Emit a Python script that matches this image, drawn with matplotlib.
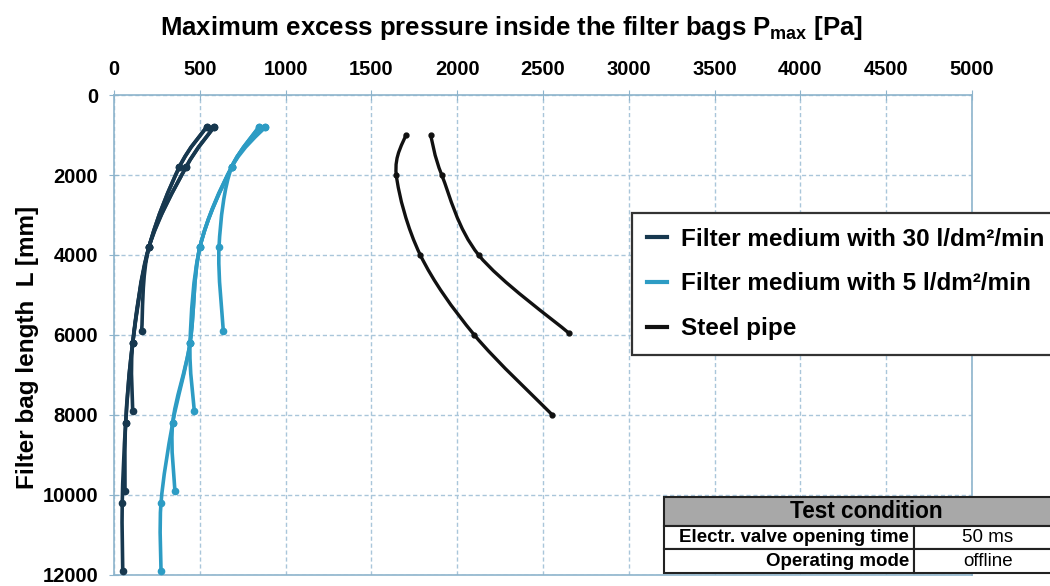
import numpy as np
import matplotlib
matplotlib.use('Agg')
import matplotlib.pyplot as plt
from matplotlib.path import Path
from matplotlib.patches import PathPatch, Rectangle
from matplotlib.lines import Line2D

plt.rcParams['font.family'] = ['Liberation Sans', 'DejaVu Sans']
plt.rcParams['mathtext.fontset'] = 'custom'
plt.rcParams['mathtext.bf'] = 'Liberation Sans:bold'
plt.rcParams['mathtext.rm'] = 'Liberation Sans'

# ---------------- data ----------------
x_ticks = [0, 500, 1000, 1500, 2000, 2500, 3000, 3500, 4000, 4500, 5000]
y_ticks = [0, 2000, 4000, 6000, 8000, 10000, 12000]

series_labels = ["Filter medium with 30 l/dm²/min",
                 "Filter medium with 5 l/dm²/min",
                 "Steel pipe"]

# Filter medium 30 l/dm2/min : (length L [mm], pressure P [Pa]) per bag length
len30_6 = [800, 1800, 3800, 5900]
p30_6 = [583, 420, 204, 161]
len30_8 = [800, 1800, 3800, 6200, 7900]
p30_8 = [540, 381, 204, 109, 109]
len30_10 = [800, 1800, 3800, 6200, 8200, 9900]
p30_10 = [583, 420, 204, 109, 68, 64]
len30_12 = [800, 1800, 3800, 6200, 8200, 10200, 11900]
p30_12 = [540, 381, 204, 109, 68, 48, 51]

# Filter medium 5 l/dm2/min
len5_6 = [800, 1800, 3800, 5900]
p5_6 = [880, 686, 612, 637]
len5_8 = [800, 1800, 3800, 6200, 7900]
p5_8 = [845, 686, 501, 443, 468]
len5_10 = [800, 1800, 3800, 6200, 8200, 9900]
p5_10 = [880, 686, 501, 443, 342, 355]
len5_12 = [800, 1800, 3800, 6200, 8200, 10200, 11900]
p5_12 = [845, 686, 501, 443, 342, 274, 274]

# Steel pipe
lenS_6 = [1000, 2000, 4000, 5950]
pS_6 = [1845, 1910, 2125, 2650]
lenS_8 = [1000, 2000, 4000, 6000, 8000]
pS_8 = [1700, 1645, 1785, 2100, 2555]

table_title = "Test condition"
table_keys = ["Electr. valve opening time", "Operating mode"]
table_vals = ["50 ms", "offline"]

# ---------------- styling ----------------
c30 = '#17384f'
c5 = '#2d9cc4'
cS = '#111111'
grid_c = '#a9c6da'
spine_c = '#8db4cc'

W, H = 1050, 586


def fx(x):
    return x / W


def fy(y):
    return 1 - y / H


def smooth_path(xs, ys):
    pts = np.column_stack([xs, ys]).astype(float)
    n = len(pts)
    verts = [pts[0]]
    codes = [Path.MOVETO]
    for i in range(n - 1):
        p0 = pts[i - 1] if i > 0 else pts[i]
        p1 = pts[i]
        p2 = pts[i + 1]
        p3 = pts[i + 2] if i + 2 < n else pts[i + 1]
        c1 = p1 + (p2 - p0) / 6.0
        c2 = p2 - (p3 - p1) / 6.0
        verts += [c1, c2, p2]
        codes += [Path.CURVE4] * 3
    return Path(verts, codes)


fig = plt.figure(figsize=(W / 100, H / 100), dpi=100)
ax = fig.add_axes([fx(114), 11 / H, 858 / W, 480 / H])
ax.set_xlim(0, 5000)
ax.set_ylim(12000, 0)
ax.xaxis.tick_top()

ax.set_xticks(x_ticks, labels=[str(v) for v in x_ticks], fontweight='bold', fontsize=14.5)
ax.set_yticks(y_ticks, labels=[str(v) for v in y_ticks], fontweight='bold', fontsize=14.5)
ax.tick_params(axis='x', direction='inout', length=7, color=spine_c, pad=8)
ax.tick_params(axis='y', direction='inout', length=7, color=spine_c, pad=8)
ax.grid(True, color=grid_c, linestyle=(0, (3, 2)), linewidth=1.0)
ax.set_axisbelow(True)
for s in ax.spines.values():
    s.set_color(spine_c)
    s.set_linewidth(1.2)

curves = [
    (p30_6, len30_6, c30, 2.6, 4.5), (p30_8, len30_8, c30, 2.6, 4.5),
    (p30_10, len30_10, c30, 2.6, 4.5), (p30_12, len30_12, c30, 2.6, 4.5),
    (p5_6, len5_6, c5, 2.6, 4.5), (p5_8, len5_8, c5, 2.6, 4.5),
    (p5_10, len5_10, c5, 2.6, 4.5), (p5_12, len5_12, c5, 2.6, 4.5),
    (pS_6, lenS_6, cS, 2.4, 3.5), (pS_8, lenS_8, cS, 2.4, 3.5),
]
for px, ly, col, lw, ms in curves:
    ax.add_patch(PathPatch(smooth_path(px, ly), facecolor='none', edgecolor=col,
                           lw=lw, capstyle='round', joinstyle='round', zorder=3))
    ax.plot(px, ly, linestyle='none', marker='o', color=col, ms=ms, zorder=4)

# axis titles
fig.text(fx(512), fy(28), 'Maximum excess pressure inside the filter bags P$_\\mathbf{max}$ [Pa]',
         ha='center', va='center', fontsize=18.5, fontweight='bold')
fig.text(fx(28), fy(347), 'Filter bag length  L [mm]', rotation=90,
         ha='center', va='center', fontsize=17.5, fontweight='bold')

# legend
handles = [Line2D([], [], color=c, lw=3) for c in (c30, c5, cS)]
leg = fig.legend(handles, series_labels, loc='upper left',
                 bbox_to_anchor=(fx(632), fy(213)), frameon=True, fancybox=False,
                 edgecolor='#333333', framealpha=1,
                 prop={'weight': 'bold', 'size': 17.5}, handlelength=0.85,
                 handletextpad=0.55, labelspacing=0.9, borderpad=0.6, borderaxespad=0)
leg.get_frame().set_linewidth(1.6)

# test condition table
x0, x1, xs = 664, 1060, 914
yh0, yh1, yr1, yr2 = 497, 526, 549, 573
tr = fig.transFigure
fig.add_artist(Rectangle((fx(x0), fy(yh1)), fx(x1) - fx(x0), fy(yh0) - fy(yh1),
                         transform=tr, facecolor='#a8a8a8', edgecolor='#222222', lw=1.5))
fig.add_artist(Rectangle((fx(x0), fy(yr1)), fx(xs) - fx(x0), fy(yh1) - fy(yr1),
                         transform=tr, facecolor='white', edgecolor='#222222', lw=1.5))
fig.add_artist(Rectangle((fx(xs), fy(yr1)), fx(x1) - fx(xs), fy(yh1) - fy(yr1),
                         transform=tr, facecolor='white', edgecolor='#222222', lw=1.5))
fig.add_artist(Rectangle((fx(x0), fy(yr2)), fx(xs) - fx(x0), fy(yr1) - fy(yr2),
                         transform=tr, facecolor='white', edgecolor='#222222', lw=1.5))
fig.add_artist(Rectangle((fx(xs), fy(yr2)), fx(x1) - fx(xs), fy(yr1) - fy(yr2),
                         transform=tr, facecolor='white', edgecolor='#222222', lw=1.5))
fig.text(fx(866), fy((yh0 + yh1) / 2), table_title, ha='center', va='center',
         fontsize=16.3, fontweight='bold')
for i, (k, v) in enumerate(zip(table_keys, table_vals)):
    yc = fy((yh1 + yr1) / 2) if i == 0 else fy((yr1 + yr2) / 2)
    fig.text(fx(909), yc, k, ha='right', va='center', fontsize=13.5, fontweight='bold')
    fig.text(fx(988), yc, v, ha='center', va='center', fontsize=13.5)

fig.savefig('out.png', dpi=100)
